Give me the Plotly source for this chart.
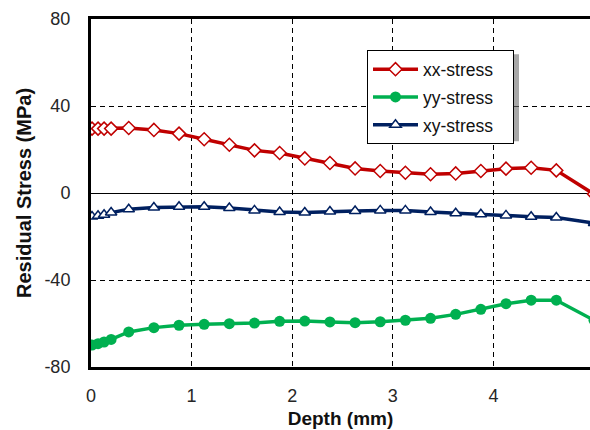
import plotly.graph_objects as go

depth = [0.01, 0.07, 0.13, 0.2, 0.375, 0.625, 0.875, 1.125, 1.375, 1.625, 1.875, 2.125,
         2.375, 2.625, 2.875, 3.125, 3.375, 3.625, 3.875, 4.125, 4.375, 4.625, 5.0]
xx_stress = [29.6, 29.6, 29.6, 29.6, 29.9, 29.0, 27.3, 24.7, 22.2, 19.6, 18.4, 15.9,
             13.8, 11.3, 10.1, 9.3, 8.6, 9.0, 10.1, 11.2, 11.6, 10.4, -0.5]
yy_stress = [-69.9, -69.3, -68.5, -67.3, -63.9, -61.9, -60.8, -60.4, -60.1, -59.8, -59.0, -58.9,
             -59.3, -59.6, -59.2, -58.5, -57.6, -55.8, -53.5, -50.9, -49.3, -49.3, -58.5]
xy_stress = [-10.8, -10.5, -10.0, -9.0, -7.5, -6.7, -6.3, -6.3, -6.9, -8.0, -8.7, -9.0,
             -8.5, -8.3, -8.0, -8.0, -8.7, -9.3, -9.8, -10.3, -10.9, -11.3, -13.8]

x_ticks = [0, 1, 2, 3, 4]
y_ticks = [-80, -40, 0, 40, 80]

FONT = "Liberation Sans, Arial, sans-serif"
NB = "\u00a0"

fig = go.Figure()
fig.add_trace(go.Scatter(
    x=depth, y=xx_stress, name="xx-stress" + NB * 3, mode="lines+markers", legendgroup="a",
    line=dict(color="#C00000", width=3.5),
    marker=dict(symbol="diamond", size=10, color="white", line=dict(color="#C00000", width=1.5)),
))
fig.add_trace(go.Scatter(
    x=depth, y=yy_stress, name="yy-stress" + NB * 3, mode="lines+markers", legendgroup="b",
    line=dict(color="#00B050", width=3.5),
    marker=dict(symbol="circle", size=11, color="#00B050"),
))
fig.add_trace(go.Scatter(
    x=depth, y=xy_stress, name="xy-stress" + NB * 3, mode="lines+markers", legendgroup="c",
    line=dict(color="#002060", width=3.5),
    marker=dict(symbol="triangle-up", size=10, color="white", line=dict(color="#002060", width=1.5)),
))

# legend shadow
fig.add_shape(type="rect", xref="paper", yref="paper",
              x0=(371 - 91) / 499, x1=(519 - 91) / 499,
              y0=(366.7 - 141) / 348, y1=(366.7 - 54) / 348,
              fillcolor="rgba(110,110,110,0.6)", line=dict(width=0), layer="above")

fig.update_layout(
    width=590, height=430,
    margin=dict(l=91, r=0, t=19, b=63, autoexpand=False),
    paper_bgcolor="white", plot_bgcolor="white",
    font=dict(family=FONT, size=17, color="#222"),
    showlegend=True,
    legend=dict(
        x=(367 - 91) / 499, y=(366.7 - 50) / 348, xanchor="left", yanchor="top",
        bgcolor="white", bordercolor="black", borderwidth=1,
        font=dict(family=FONT, size=17.5, color="#111"),
        tracegroupgap=2, itemwidth=45,
    ),
    xaxis=dict(
        range=[0, 4.96], tickvals=x_ticks, ticktext=[str(v) for v in x_ticks],
        showline=True, linecolor="black", linewidth=3, mirror=True,
        showgrid=True, gridcolor="black", gridwidth=1, griddash="5px,4px",
        zeroline=False, ticks="", ticklen=0, ticklabelstandoff=10,
        title=dict(text="<b>Depth (mm)</b>", font=dict(family=FONT, size=19, color="#111"), standoff=8),
        tickfont=dict(family=FONT, size=18, color="#262626"),
    ),
    yaxis=dict(
        range=[-80, 80], tickvals=y_ticks, ticktext=[str(v) for v in y_ticks],
        showline=True, linecolor="black", linewidth=3, mirror=False,
        showgrid=True, gridcolor="black", gridwidth=1, griddash="5px,4px",
        zeroline=True, zerolinecolor="black", zerolinewidth=1,
        ticks="", ticklen=0, ticklabelstandoff=14,
        title=dict(text="<b>Residual Stress (MPa)</b>", font=dict(family=FONT, size=20, color="#111"), standoff=8),
        tickfont=dict(family=FONT, size=18, color="#262626"),
    ),
)

fig.write_html("out.html", config={"displayModeBar": False},
               post_script="document.body.style.margin='0';document.body.style.overflow='hidden';")
